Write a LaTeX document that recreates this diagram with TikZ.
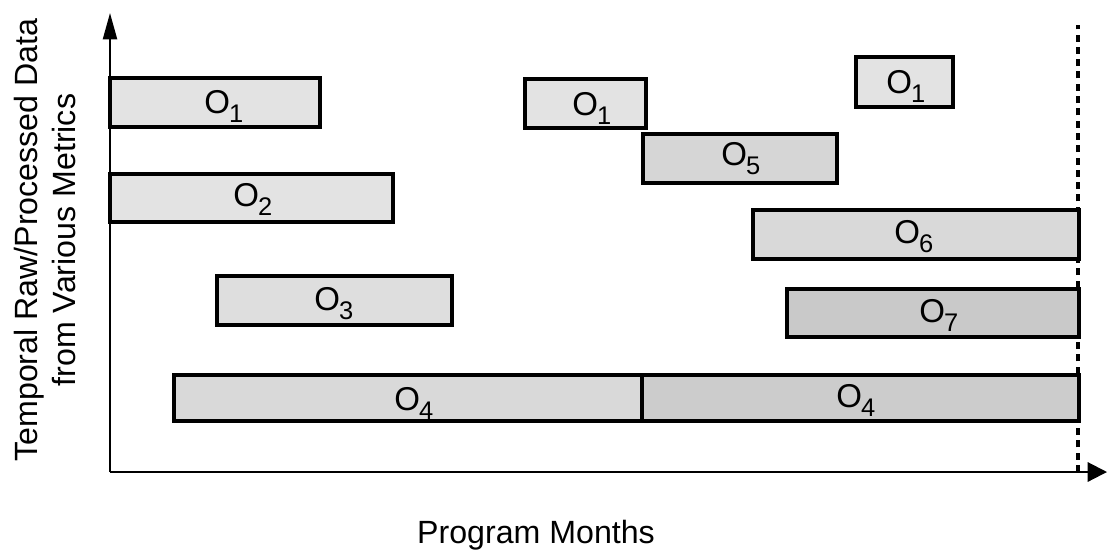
\documentclass[tikz,border=0pt]{standalone}
\usepackage{fontspec}
\setmainfont{Liberation Sans}
\usepackage{tikz}
\usetikzlibrary{arrows.meta, fit}

\newcommand{\osub}[1]{O\kern-0.5pt\raisebox{-5.5pt}{\fontsize{14.5}{15}\selectfont #1}}

\begin{document}
\begin{tikzpicture}[
  x=0.02cm, y=-0.02cm,
  bar/.style={draw, line width=1.8pt, inner sep=0pt},
  tag/.style={inner sep=0pt, anchor=base west, font=\fontsize{18.8}{20}\selectfont},
  axis/.style={line width=1.2pt},
  guide/.style={line width=2pt, dash pattern=on 4pt off 3pt}
]
\useasboundingbox (0,0) rectangle (1108,552);

% AXES
\coordinate (origin) at (110,472);
\coordinate (ytip) at (110,13);
\coordinate (xtip) at (1107,472);
\coordinate (dtop) at (1078,25);
\coordinate (dbot) at (1078,472);

\draw[axis, -{Triangle[length=15pt,width=8pt]}] (origin) -- (ytip);
\draw[axis, -{Triangle[length=11pt,width=11pt]}] (origin) -- (xtip);
\draw[guide] (dbot) -- (dtop);

% BARS
\node[bar, fill=gray!22, fit={(110,78) (320,127)}] (o1a) {};
\node[bar, fill=gray!22, fit={(110,174) (393,222)}] (o2) {};
\node[bar, fill=gray!26, fit={(217,276) (452,325)}] (o3) {};
\node[bar, fill=gray!30, fit={(174,375) (642,421)}] (o4a) {};
\node[bar, fill=gray!40, fit={(642,375) (1079,421)}] (o4b) {};
\node[bar, fill=gray!22, fit={(525,79) (646,128)}] (o1b) {};
\node[bar, fill=gray!32, fit={(643,134) (837,183)}] (o5) {};
\node[bar, fill=gray!22, fit={(856,57) (953,107)}] (o1c) {};
\node[bar, fill=gray!30, fit={(753,210) (1079,259)}] (o6) {};
\node[bar, fill=gray!42, fit={(787,289) (1079,337)}] (o7) {};

% LABELS
\node[tag] (t1a) at (204,113) {\osub{1}};
\node[tag] (t2) at (233,206) {\osub{2}};
\node[tag] (t3) at (314,310) {\osub{3}};
\node[tag] (t4a) at (394,410) {\osub{4}};
\node[tag] (t4b) at (836,407) {\osub{4}};
\node[tag] (t1b) at (572,115) {\osub{1}};
\node[tag] (t5) at (721,165) {\osub{5}};
\node[tag] (t1c) at (886,93) {\osub{1}};
\node[tag] (t6) at (894,243) {\osub{6}};
\node[tag] (t7) at (919,322) {\osub{7}};

% AXIS TITLES
\node[rotate=90, align=center, font=\fontsize{18.3}{21.6}\selectfont] (ylab) at (45,240)
  {Temporal Raw/Processed Data\\from Various Metrics};
\node[anchor=base, font=\fontsize{18.3}{20}\selectfont] (xlab) at (536,543) {Program Months};

\end{tikzpicture}
\end{document}
